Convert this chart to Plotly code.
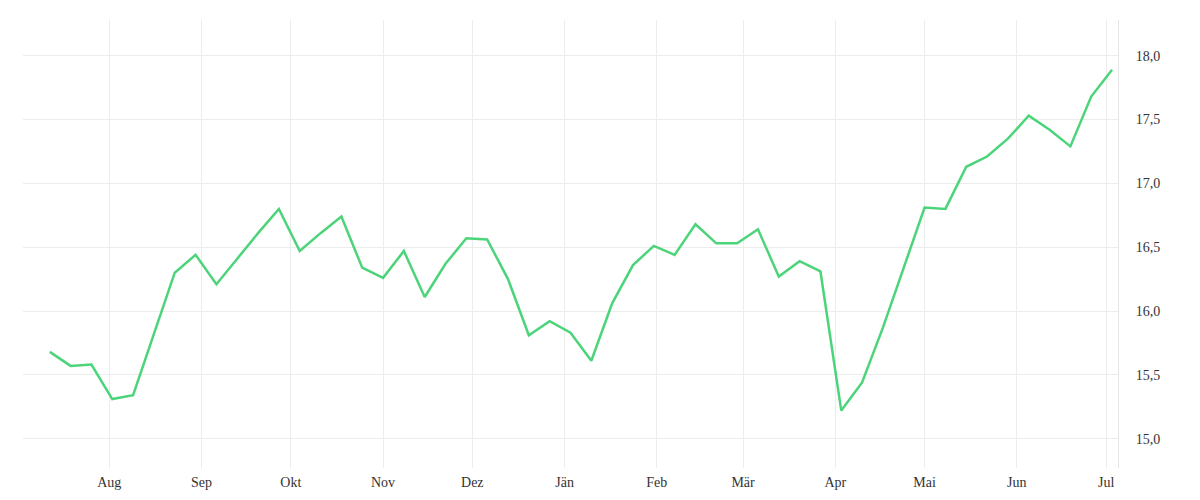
import plotly.graph_objects as go
import pandas as pd

start_date = "2023-07-12"
values = [15.68, 15.57, 15.58, 15.31, 15.34, 15.82, 16.30, 16.44, 16.21, 16.41,
          16.61, 16.80, 16.47, 16.61, 16.74, 16.34, 16.26, 16.47, 16.11, 16.37,
          16.57, 16.56, 16.25, 15.81, 15.92, 15.83, 15.61, 16.06, 16.36, 16.51,
          16.44, 16.68, 16.53, 16.53, 16.64, 16.27, 16.39, 16.31, 15.22, 15.44,
          15.87, 16.34, 16.81, 16.80, 17.13, 17.21, 17.35, 17.53, 17.42, 17.29,
          17.68, 17.89]
dates = pd.date_range(start_date, periods=len(values), freq="7D")
month_ticks = pd.date_range("2023-08-01", "2024-07-01", freq="MS")
month_labels = ["Aug", "Sep", "Okt", "Nov", "Dez", "Jän", "Feb", "Mär", "Apr", "Mai", "Jun", "Jul"]
y_ticks = [15.0, 15.5, 16.0, 16.5, 17.0, 17.5, 18.0]
y_labels = ["15,0", "15,5", "16,0", "16,5", "17,0", "17,5", "18,0"]

fig = go.Figure(go.Scatter(x=dates, y=values, mode="lines",
                           line=dict(color="#4cd47a", width=2.5), hoverinfo="x+y"))
fig.update_layout(
    width=1200, height=500, plot_bgcolor="white", paper_bgcolor="white",
    margin=dict(l=15, r=90, t=12, b=40), showlegend=False,
    font=dict(family="Liberation Serif", size=14, color="#333"),
    xaxis=dict(range=["2023-07-03", "2024-07-05"], tickvals=month_ticks, ticktext=month_labels,
               showgrid=True, gridcolor="#ececec", zeroline=False, showline=False,
               ticks="", ticklabelstandoff=4),
    yaxis=dict(side="right", range=[14.77, 18.28], tickvals=y_ticks, ticktext=y_labels,
               showgrid=True, gridcolor="#ececec", zeroline=False,
               showline=True, linecolor="#e6e6e6", ticks="", ticklabelstandoff=14),
)
fig.write_html("out.html")
